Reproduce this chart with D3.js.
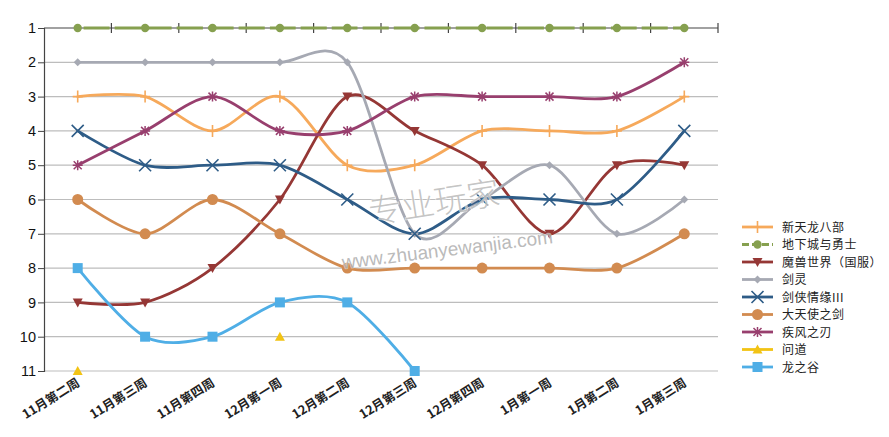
<!DOCTYPE html>
<html><head><meta charset="utf-8">
<script src="https://cdn.jsdelivr.net/npm/d3@7"></script>
<style>
body{margin:0;background:#fff;}
svg{display:block;}
</style></head>
<body>
<svg id="chart" width="889" height="437"></svg>
<script>
const categories = ['11月第二周','11月第三周','11月第四周','12月第一周','12月第二周','12月第三周','12月第四周','1月第一周','1月第二周','1月第三周'];
const rankTicks = [1,2,3,4,5,6,7,8,9,10,11];
const seriesNames = ['新天龙八部','地下城与勇士','魔兽世界（国服）','剑灵','剑侠情缘III','大天使之剑','疾风之刃','问道','龙之谷'];
const xintianlong = [3,3,4,3,5,5,4,4,4,3];
const dixiacheng = [1,1,1,1,1,1,1,1,1,1];
const moshou = [9,9,8,6,3,4,5,7,5,5];
const jianling = [2,2,2,2,2,7,6,5,7,6];
const jianxia = [4,5,5,5,6,7,6,6,6,4];
const datianshi = [6,7,6,7,8,8,8,8,8,7];
const jifeng = [5,4,3,4,4,3,3,3,3,2];
const wendao = [11,null,null,10,null,null,null,null,null,null];
const longzhigu = [8,10,10,9,9,11,null,null,null,null];

const colors = ['#F6A95B','#86A04F','#953735','#A6A9B3','#2E5C87','#D28B50','#983F6E','#F2C314','#4FAEE6'];
const markers = ['plus','circleS','triDown','diamond','cross','circleL','asterisk','triUp','square'];
const dashes = [null,'26,5',null,null,null,null,null,null,null];
const allValues = [xintianlong,dixiacheng,moshou,jianling,jianxia,datianshi,jifeng,wendao,longzhigu];

const svg = d3.select('#chart');
const x = d3.scaleBand().domain(categories).range([44,718]);
const cx = c => x(c) + x.bandwidth()/2;
const y = d3.scaleLinear().domain([1,11]).range([28,371]);

// gridlines
svg.append('g').selectAll('line').data(rankTicks.filter(d=>d>1)).join('line')
  .attr('x1',44).attr('x2',718).attr('y1',d=>y(d)).attr('y2',d=>y(d))
  .attr('stroke','#BDBDBD').attr('stroke-width',1.2);

// y axis
const yAxis = svg.append('g').attr('transform','translate(44,0)')
  .call(d3.axisLeft(y).tickValues(rankTicks).tickSize(6).tickFormat(d3.format('d')));
yAxis.select('.domain').attr('stroke','#444').attr('stroke-width',1.2);
yAxis.selectAll('.tick line').attr('stroke','#444');
yAxis.selectAll('.tick text').attr('font-family','Liberation Sans, Arial, sans-serif')
  .attr('font-size',14.5).attr('fill','#111').attr('x',-8);

// category axis line at rank 1 with ticks at band boundaries
const topG = svg.append('g');
topG.append('line').attr('x1',44).attr('x2',718).attr('y1',y(1)).attr('y2',y(1))
  .attr('stroke','#444').attr('stroke-width',1.2);
const bounds = categories.map(c=>x(c)).concat([x(categories[categories.length-1])+x.bandwidth()]);
topG.selectAll('line.tk').data(bounds.slice(1)).join('line').attr('class','tk')
  .attr('x1',d=>d).attr('x2',d=>d).attr('y1',y(1)-5).attr('y2',y(1)+5)
  .attr('stroke','#444').attr('stroke-width',1.2);

// x labels
svg.append('g').selectAll('text').data(categories).join('text')
  .attr('transform',d=>`translate(${cx(d)+3},${y(11)+14}) rotate(-32)`)
  .attr('text-anchor','end')
  .attr('font-family','Noto Sans CJK SC, sans-serif')
  .attr('font-size',12.5).attr('font-weight','bold').attr('fill','#222')
  .text(d=>d);

// marker drawing
function drawMarker(g, type, color, px, py){
  const s = g.append('g').attr('transform',`translate(${px},${py})`);
  switch(type){
    case 'plus':
      s.append('path').attr('d','M-5,0H5M0,-6V6').attr('stroke',color).attr('stroke-width',1.6).attr('fill','none'); break;
    case 'circleS':
      s.append('circle').attr('r',4.2).attr('fill',color); break;
    case 'circleL':
      s.append('circle').attr('r',5.5).attr('fill',color); break;
    case 'triDown':
      s.append('path').attr('d','M-5,-4L5,-4L0,5Z').attr('fill',color); break;
    case 'triUp':
      s.append('path').attr('d','M-5,4L5,4L0,-5Z').attr('fill',color); break;
    case 'diamond':
      s.append('path').attr('d','M0,-4L4,0L0,4L-4,0Z').attr('fill',color); break;
    case 'cross':
      s.append('path').attr('d','M-6,-6L6,6M-6,6L6,-6').attr('stroke',color).attr('stroke-width',1.6).attr('fill','none'); break;
    case 'asterisk':
      s.append('path').attr('d','M-5,0H5M0,-5V5M-4,-4L4,4M-4,4L4,-4').attr('stroke',color).attr('stroke-width',1.5).attr('fill','none'); break;
    case 'square':
      s.append('rect').attr('x',-5).attr('y',-5).attr('width',10).attr('height',10).attr('fill',color); break;
  }
}

const line = d3.line()
  .defined(d=>d.v!=null)
  .x(d=>cx(d.c)).y(d=>y(d.v))
  .curve(d3.curveCardinal.tension(0.1));

const seriesG = svg.append('g');
allValues.forEach((vals,i)=>{
  const pts = categories.map((c,j)=>({c:c,v:vals[j]}));
  const p = seriesG.append('path').datum(pts).attr('d',line)
    .attr('fill','none').attr('stroke',colors[i]).attr('stroke-width',2.8)
    .attr('stroke-linejoin','round').attr('stroke-linecap','round');
  if(dashes[i]) p.attr('stroke-dasharray',dashes[i]).attr('stroke-dashoffset',-6).attr('stroke-linecap','butt');
});
allValues.forEach((vals,i)=>{
  const mg = seriesG.append('g');
  categories.forEach((c,j)=>{ if(vals[j]!=null) drawMarker(mg, markers[i], colors[i], cx(c), y(vals[j])); });
});

// legend
const lg = svg.append('g');
seriesNames.forEach((n,i)=>{
  const ly = 227 + i*17.5;
  const l = lg.append('line').attr('x1',742).attr('x2',773).attr('y1',ly).attr('y2',ly)
    .attr('stroke',colors[i]).attr('stroke-width',2.8);
  if(dashes[i]) l.attr('stroke-dasharray','7,3');
  drawMarker(lg, markers[i], colors[i], 757.5, ly);
  lg.append('text').attr('x',782).attr('y',ly+4.5)
    .attr('font-family','Noto Sans CJK SC, sans-serif').attr('font-size',12).attr('letter-spacing',0.5).attr('fill','#222')
    .text(n);
});

// watermark
const wm = svg.append('g');
wm.append('text').attr('transform','translate(436,214) rotate(-9)').attr('text-anchor','middle')
  .attr('font-family','Noto Sans CJK SC, sans-serif').attr('font-size',33).attr('font-weight','300')
  .attr('fill','#b5b5b5').attr('fill-opacity',0.8).attr('stroke','#fff').attr('stroke-opacity',0.6).attr('stroke-width',1.5)
  .attr('paint-order','stroke').text('专业玩家');
wm.append('text').attr('transform','translate(448,256) rotate(-7)').attr('text-anchor','middle')
  .attr('font-family','Liberation Sans, Arial, sans-serif').attr('font-size',19)
  .attr('fill','#a8a8a8').attr('fill-opacity',0.8).attr('stroke','#fff').attr('stroke-opacity',0.5).attr('stroke-width',1.2)
  .attr('paint-order','stroke').text('www.zhuanyewanjia.com');
</script>
</body></html>
